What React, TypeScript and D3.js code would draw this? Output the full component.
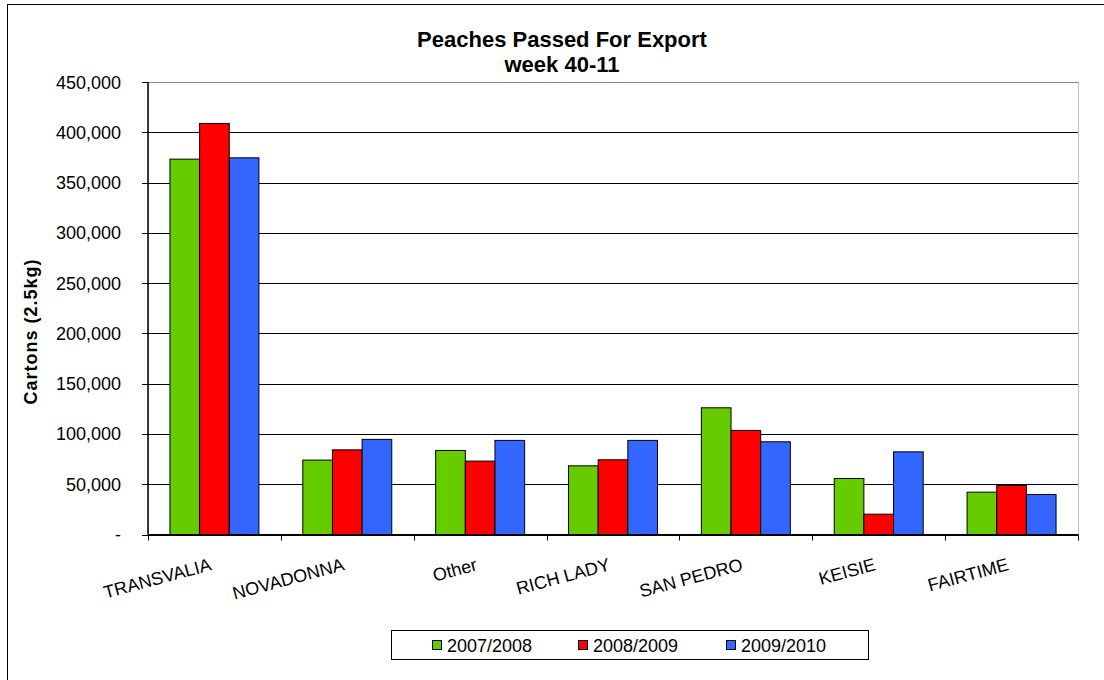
import React from "react";
import * as d3 from "d3";

const categories = ["TRANSVALIA", "NOVADONNA", "Other", "RICH LADY", "SAN PEDRO", "KEISIE", "FAIRTIME"];
const seriesNames = ["2007/2008", "2008/2009", "2009/2010"];
const colors = ["#66cc00", "#ff0000", "#3366ff"];
const s2007 = [373300, 74000, 83600, 68300, 126000, 55700, 42100];
const s2008 = [408800, 84200, 73000, 74300, 103500, 20200, 48800];
const s2009 = [374600, 94600, 93600, 93600, 92200, 82200, 39800];
const seriesValues = [s2007, s2008, s2009];
const yTicks = [0, 50000, 100000, 150000, 200000, 250000, 300000, 350000, 400000, 450000];

export default function App() {
  const W = 1104, H = 680;
  const left = 148, right = 1078, top = 82, bottom = 534.5;
  const x = d3.scaleBand<string>().domain(categories).range([left, right]).paddingInner(0).paddingOuter(0);
  const inner = d3.scaleBand<string>().domain(seriesNames).range([0, x.bandwidth()]).paddingOuter(0.74).paddingInner(0);
  const y = d3.scaleLinear().domain([0, 450000]).range([bottom, top]);
  const fmt = d3.format(",");
  const font = "Liberation Sans, Arial, sans-serif";

  return (
    <div style={{ position: "absolute", left: 0, top: 0 }}>
      <svg width={W} height={H} style={{ display: "block", fontFamily: font }}>
        <rect x={0} y={0} width={W} height={H} fill="#fff" />
        <rect x={7.5} y={4.5} width={1110} height={690} fill="none" stroke="#000" strokeWidth={1} />
        <text x={562} y={47} textAnchor="middle" fontSize={22} fontWeight="bold">Peaches Passed For Export</text>
        <text x={562} y={72} textAnchor="middle" fontSize={22} fontWeight="bold">week 40-11</text>

        {/* plot border */}
        <rect x={left} y={top} width={right - left} height={bottom - top} fill="none" stroke="#c0c0c0" strokeWidth={1} shapeRendering="crispEdges" />
        {/* gridlines */}
        {yTicks.slice(1).map((t) => (
          <line key={"g" + t} x1={left} x2={right} y1={Math.round(y(t)) + 0.5} y2={Math.round(y(t)) + 0.5}
            stroke={t === 450000 ? "#888" : "#000"} strokeWidth={1} />
        ))}
        {/* bars */}
        {categories.map((c, ci) => (
          <g key={c} transform={`translate(${x(c)},0)`}>
            {seriesNames.map((s, si) => {
              const v = seriesValues[si][ci];
              return (
                <rect key={s} x={inner(s)} y={y(v)} width={inner.bandwidth()} height={bottom - y(v)}
                  fill={colors[si]} stroke="#000" strokeWidth={1} />
              );
            })}
          </g>
        ))}
        {/* y axis */}
        <line x1={left} x2={left} y1={top} y2={bottom} stroke="#000" strokeWidth={1.5} />
        {yTicks.map((t) => (
          <g key={"t" + t}>
            <line x1={left - 6} x2={left} y1={Math.round(y(t)) + 0.5} y2={Math.round(y(t)) + 0.5} stroke="#000" strokeWidth={1} />
            <text x={121} y={y(t) + 6.5} textAnchor="end" fontSize={18} fill="#000">{t === 0 ? "-" : fmt(t)}</text>
          </g>
        ))}
        <text transform={`translate(37,332) rotate(-90)`} textAnchor="middle" fontSize={18} fontWeight="bold"
          textLength={145} lengthAdjust="spacing">Cartons (2.5kg)</text>
        {/* x axis */}
        <line x1={left} x2={right} y1={bottom + 0.5} y2={bottom + 0.5} stroke="#000" strokeWidth={2} />
        {d3.range(categories.length + 1).map((i) => {
          const xx = Math.round(left + i * x.step()) + 0.5;
          return <line key={"xt" + i} x1={xx} x2={xx} y1={bottom} y2={bottom + 6} stroke="#000" strokeWidth={1} />;
        })}
        {categories.map((c) => {
          const cx = (x(c) as number) + x.bandwidth() / 2;
          return (
            <text key={"l" + c} transform={`translate(${cx - 2},570) rotate(-15)`} textAnchor="end" fontSize={18} fill="#000">{c}</text>
          );
        })}
        {/* legend */}
        <rect x={391.5} y={630.5} width={477} height={29} fill="#fff" stroke="#000" strokeWidth={1} />
        {seriesNames.map((s, i) => {
          const lx = [432, 578, 726][i];
          return (
            <g key={"lg" + s}>
              <rect x={lx + 0.5} y={640.5} width={9} height={9} fill={colors[i]} stroke="#000" strokeWidth={1} />
              <text x={lx + 15} y={652} fontSize={18} fill="#000">{s}</text>
            </g>
          );
        })}
      </svg>
    </div>
  );
}
